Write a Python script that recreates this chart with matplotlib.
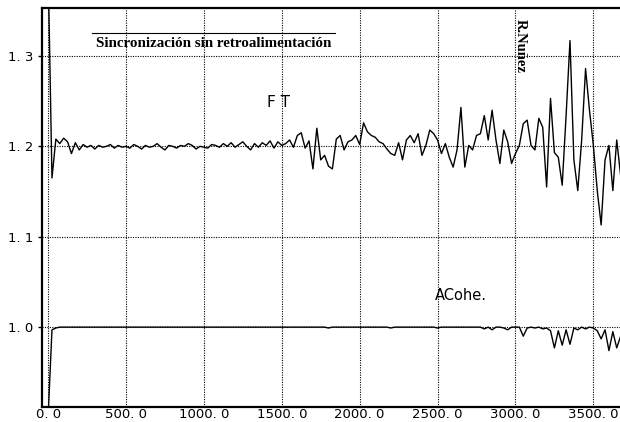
import numpy as np
import matplotlib
matplotlib.use("Agg")
from matplotlib import pyplot as plt
from matplotlib.lines import Line2D

# sampling step of the recorded series (x units)
step = 25

# FT series, one value every 25 units starting at 0
ft = [1.40, 1.165, 1.208, 1.203, 1.209, 1.205, 1.192, 1.204, 1.196, 1.202,
      1.199, 1.201, 1.197, 1.201, 1.199, 1.200, 1.202, 1.198, 1.201, 1.199,
      1.200, 1.198, 1.202, 1.200, 1.197, 1.201, 1.199, 1.200, 1.203, 1.199,
      1.196, 1.201, 1.200, 1.198, 1.201, 1.200, 1.203, 1.201, 1.197, 1.200,
      1.199, 1.198, 1.202, 1.201, 1.199, 1.203, 1.200, 1.204, 1.199, 1.202,
      1.205, 1.200, 1.196, 1.203, 1.199, 1.204, 1.201, 1.206, 1.198, 1.205,
      1.201, 1.203, 1.207, 1.199, 1.212, 1.215, 1.198, 1.206, 1.175, 1.220,
      1.185, 1.190, 1.178, 1.175, 1.208, 1.212, 1.196, 1.205, 1.207, 1.212,
      1.202, 1.226, 1.216, 1.212, 1.210, 1.205, 1.203, 1.197, 1.192, 1.190,
      1.204, 1.185, 1.207, 1.212, 1.204, 1.214, 1.190, 1.201, 1.218, 1.214,
      1.207, 1.192, 1.203, 1.188, 1.177, 1.196, 1.243, 1.177, 1.201, 1.196,
      1.212, 1.214, 1.234, 1.207, 1.240, 1.207, 1.181, 1.218, 1.205, 1.181,
      1.192, 1.201, 1.225, 1.229, 1.201, 1.196, 1.231, 1.221, 1.155, 1.253,
      1.193, 1.188, 1.157, 1.234, 1.317, 1.185, 1.151, 1.207, 1.286, 1.240,
      1.201, 1.151, 1.113, 1.185, 1.201, 1.151, 1.207, 1.168]

# ACohe series, same sampling
acohe = [0.90, 0.997, 0.999, 1.000, 1.000, 1.000, 1.000, 1.000, 1.000, 1.000,
         1.000, 1.000, 1.000, 1.000, 1.000, 1.000, 1.000, 1.000, 1.000, 1.000,
         1.000, 1.000, 1.000, 1.000, 1.000, 1.000, 1.000, 1.000, 1.000, 1.000,
         1.000, 1.000, 1.000, 1.000, 1.000, 1.000, 1.000, 1.000, 1.000, 1.000,
         1.000, 1.000, 1.000, 1.000, 1.000, 1.000, 1.000, 1.000, 1.000, 1.000,
         1.000, 1.000, 1.000, 1.000, 1.000, 1.000, 1.000, 1.000, 1.000, 1.000,
         1.000, 1.000, 1.000, 1.000, 1.000, 1.000, 1.000, 1.000, 1.000, 1.000,
         1.000, 1.000, 0.999, 1.000, 1.000, 1.000, 1.000, 1.000, 1.000, 1.000,
         1.000, 1.000, 1.000, 1.000, 1.000, 1.000, 1.000, 1.000, 0.999, 1.000,
         1.000, 1.000, 1.000, 1.000, 1.000, 1.000, 1.000, 1.000, 1.000, 1.000,
         0.999, 1.000, 1.000, 1.000, 1.000, 1.000, 1.000, 1.000, 1.000, 1.000,
         1.000, 1.000, 0.998, 1.000, 0.997, 1.000, 1.000, 0.999, 0.997, 1.000,
         1.000, 1.000, 0.990, 0.999, 1.000, 0.999, 1.000, 0.998, 0.999, 0.996,
         0.977, 0.996, 0.980, 0.997, 0.981, 0.999, 0.997, 1.000, 0.998, 1.000,
         0.999, 0.996, 0.987, 0.997, 0.974, 0.995, 0.977, 0.990]

x = np.arange(len(ft)) * step

xticks = [0, 500, 1000, 1500, 2000, 2500, 3000, 3500]
xtick_labels = ["0. 0", "500. 0", "1000. 0", "1500. 0", "2000. 0", "2500. 0", "3000. 0", "3500. 0"]
yticks = [1.0, 1.1, 1.2, 1.3]
ytick_labels = ["1. 0", "1. 1", "1. 2", "1. 3"]

fig = plt.figure(figsize=(6.2, 4.22), dpi=100)
ax = fig.add_axes([0.068, 0.0355, 0.932, 0.9455])

ax.plot(x, ft, color="black", lw=1.0)
ax.plot(np.arange(len(acohe)) * step, acohe, color="black", lw=1.0)

ax.set_xlim(-38, 3671)
ax.set_ylim(0.9116, 1.353)
ax.set_xticks(xticks)
ax.set_xticklabels(xtick_labels)
ax.set_yticks(yticks)
ax.set_yticklabels(ytick_labels)
ax.tick_params(axis="both", labelsize=9.5, colors="black", length=3, width=1)
ax.tick_params(axis="x", pad=1, length=0)
ax.grid(True, color="black", linestyle=(0, (1, 1.2)), linewidth=0.8)

for side in ["left", "top", "bottom"]:
    ax.spines[side].set_linewidth(1.6)
ax.spines["right"].set_visible(False)

# labels on the chart
fig.text(0.345, 0.898, "Sincronización sin retroalimentación", family="Liberation Serif",
         weight="bold", fontsize=10.8, ha="center", va="center")
fig.add_artist(Line2D([0.148, 0.54], [0.922, 0.922], color="black", lw=0.8))
fig.text(0.839, 0.892, "R.Nuñez", family="Liberation Serif", weight="bold",
         fontsize=10.5, rotation=270, ha="center", va="center")
fig.text(0.449, 0.756, "F T", fontsize=11, ha="center", va="center")
fig.text(0.743, 0.3, "ACohe.", fontsize=10.5, ha="center", va="center")

plt.savefig("out.png", dpi=100)
